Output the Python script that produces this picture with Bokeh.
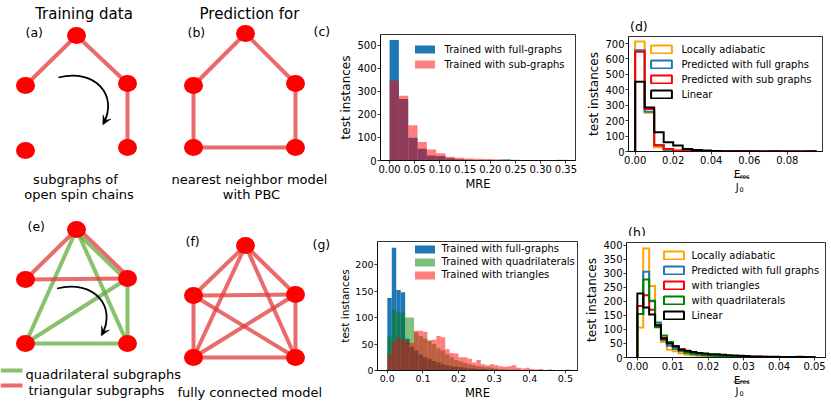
import math
from bokeh.plotting import figure
from bokeh.layouts import row, column
from bokeh.models import (Range1d, FixedTicker, PrintfTickFormatter, Legend, LegendItem,
                          ColumnDataSource)
from bokeh.core.properties import value
from bokeh.embed import file_html
from bokeh.resources import INLINE

FONT = "DejaVu Sans"
NAN = float("nan")

# ---------------- histogram data ----------------
# (c) MRE, 1D chains
c_bin_width = 0.0185
c_full = [522, 267, 99, 51, 22, 19, 10, 5, 3, 2, 1, 1, 4, 2, 1, 1, 0, 1, 1]
c_sub = [347, 281, 153, 80, 48, 31, 16, 12, 9, 8, 6, 5, 3, 3, 2, 2, 2, 2, 3]

# (d) E_res / J_0, 1D chains
d_bin_width = 0.005
d_adiabatic = [713, 252, 28, 6, 3, 2, 1, 1, 0, 0, 0, 0, 0, 0, 0, 0, 0, 0, 0]
d_full = [657, 258, 42, 12, 4, 2, 1, 1, 1, 0, 0, 0, 0, 0, 0, 0, 0, 0, 0]
d_sub = [646, 276, 39, 17, 6, 3, 1, 1, 1, 0, 2, 1, 0, 0, 0, 1, 1, 0, 0]
d_linear = [452, 286, 125, 60, 39, 17, 9, 6, 3, 2, 1, 1, 1, 0, 1, 0, 0, 0, 1]

# (g) MRE, fully connected
g_bin_width = 0.0125
g_full = [137, 232, 152, 148, 60, 45, 38, 30, 25, 22, 18, 15, 12, 10, 8, 7, 6, 5, 4, 4, 3,
          3, 2, 2, 2, 1, 1, 1, 1, 1, 1, 1, 0, 0, 1, 0, 1, 0, 1, 1, 1]
g_quad = [64, 115, 109, 110, 100, 100, 72, 65, 60, 57, 50, 42, 38, 30, 25, 20, 17, 14, 12, 10, 8,
          7, 6, 5, 4, 3, 3, 2, 2, 2, 1, 1, 1, 1, 0, 1, 0, 0, 0, 1, 2]
g_tri = [30, 53, 62, 58, 55, 52, 75, 75, 73, 55, 58, 65, 63, 40, 33, 32, 25, 25, 22, 15, 20,
         12, 10, 12, 10, 8, 7, 8, 10, 5, 4, 5, 3, 2, 3, 1, 2, 1, 1, 1, 0]

# (h) E_res / J_0, fully connected
h_bin_width = 0.05 / 30
h_adiabatic = [107, 388, 255, 118, 55, 28, 22, 14, 10, 8, 6, 5, 4, 3, 3, 2, 2, 2, 1, 1,
               1, 1, 1, 1, 1, 0, 0, 0, 0, 0]
h_full = [155, 305, 200, 125, 62, 42, 30, 22, 16, 12, 10, 8, 6, 5, 4, 4, 3, 3, 2, 2,
          2, 1, 1, 1, 1, 1, 1, 1, 1, 1]
h_tri = [183, 222, 170, 112, 70, 52, 40, 30, 22, 18, 14, 12, 10, 8, 7, 6, 5, 4, 4, 3,
         3, 3, 2, 2, 2, 2, 2, 3, 2, 2]
h_quad = [155, 278, 202, 108, 78, 55, 38, 26, 18, 14, 12, 10, 8, 6, 5, 5, 4, 3, 3, 2,
          2, 2, 2, 1, 1, 1, 1, 1, 1, 1]
h_linear = [228, 178, 153, 115, 68, 50, 40, 28, 24, 20, 16, 14, 12, 12, 10, 8, 7, 6, 5, 4,
            4, 3, 3, 3, 2, 2, 2, 2, 2, 1]

# ---------------- schematic graphs (node order: top, mid-left, mid-right, bottom-left, bottom-right)
a_nodes_x = [76, 25, 127, 25, 127]
a_nodes_y = [35, 85, 83, 150, 147]
b_nodes_x = [245, 193, 295, 193, 295]
b_nodes_y = [33, 85, 83, 147, 147]
e_nodes_x = [76, 25, 127, 25, 127]
e_nodes_y = [229, 279, 278, 343, 343]
f_nodes_x = [245, 193, 295, 193, 295]
f_nodes_y = [245, 295, 294, 357, 357]
a_edges = [(0, 1), (0, 2), (2, 4)]
b_edges = [(0, 1), (0, 2), (2, 4), (3, 4), (1, 3)]
e_tri_edges = [(0, 1), (1, 2), (0, 2)]
e_quad_edges = [(0, 3), (0, 4), (2, 3), (3, 4), (2, 4), (0, 2)]
f_edges = [(i, j) for i in range(5) for j in range(i + 1, 5)]

BLUE = "#1f77b4"
EDGE_RED = "#e23a3a"
EDGE_GREEN = "#62ad3c"


def bin_edges(width, counts):
    return [i * width for i in range(len(counts) + 1)]


def step_xy(edges, counts):
    xs, ys = [edges[0]], [0]
    for i, c in enumerate(counts):
        xs += [edges[i], edges[i + 1]]
        ys += [c, c]
    xs.append(edges[-1])
    ys.append(0)
    return xs, ys


def hist_fig(width, height, bl, br, bt, bb, xr, yr, xticks, xfmt, yticks, tick_fs):
    p = figure(width=width, height=height, min_border_left=bl, min_border_right=br,
               min_border_top=bt, min_border_bottom=bb, x_range=Range1d(*xr),
               y_range=Range1d(*yr), output_backend="svg", toolbar_location=None, tools="")
    p.xgrid.visible = False
    p.ygrid.visible = False
    p.outline_line_color = "black"
    p.outline_line_width = 0.8
    p.outline_line_alpha = 1
    p.background_fill_color = "white"
    p.border_fill_color = "white"
    p.xaxis.ticker = FixedTicker(ticks=xticks)
    p.xaxis.formatter = PrintfTickFormatter(format=xfmt)
    p.yaxis.ticker = FixedTicker(ticks=yticks)
    for ax in (p.xaxis[0], p.yaxis[0]):
        ax.axis_line_color = "black"
        ax.axis_line_width = 0.8
        ax.major_tick_line_width = 0.8
        ax.major_tick_out = 3
        ax.major_tick_in = 0
        ax.minor_tick_line_color = None
        ax.major_label_text_font = FONT
        ax.major_label_text_font_size = tick_fs
        ax.major_label_text_color = "black"
        ax.major_label_standoff = 1
        ax.axis_label_text_font = FONT
        ax.axis_label_text_font_style = "normal"
        ax.axis_label_text_color = "black"
        ax.axis_label_standoff = 1
    return p


def canvas(x0, x1, y0, y1):
    """Axis-less drawing area whose data units are page pixels."""
    s = figure(width=x1 - x0, height=y1 - y0, x_range=Range1d(x0, x1), y_range=Range1d(y1, y0),
               min_border=0, output_backend="svg", toolbar_location=None, tools="",
               x_axis_location=None, y_axis_location=None)
    s.grid.visible = False
    s.outline_line_color = None
    s.background_fill_color = "white"
    s.border_fill_color = "white"
    return s


def texts(s, items, size, align):
    s.text(x=[t[1] for t in items], y=[t[2] for t in items], text=[t[0] for t in items],
           text_font=value(FONT), text_font_size=size, text_align=align,
           text_baseline="alphabetic", text_color="black")


def fraction(s, xc, y_e, y_line, y_j):
    texts(s, [("E", xc - 9.5, y_e), ("J", xc - 7.5, y_j)], "10px", "left")
    texts(s, [("res", xc - 2.3, y_e + 2), ("0", xc - 2.5, y_j + 1.5)], "6.5px", "left")
    s.segment([xc - 10], [y_line], [xc + 9.5], [y_line], line_color="black", line_width=0.8)


def legend(p, items, loc, gw, standoff, spacing):
    lg = Legend(items=items, location=loc, glyph_width=gw, glyph_height=10,
                label_standoff=standoff, spacing=spacing, padding=0, margin=0,
                label_height=12, label_text_font=FONT, label_text_font_size="10px",
                label_text_color="black", label_text_baseline="middle", border_line_color=None,
                background_fill_color="white", background_fill_alpha=0.8)
    p.add_layout(lg)


def proxy(p, color):
    # legend-only handle (outlined box, like matplotlib's step-histogram legend patch)
    src = ColumnDataSource(dict(left=[NAN], right=[NAN], top=[NAN], bottom=[NAN]))
    return p.quad(left="left", right="right", top="top", bottom="bottom", source=src,
                  fill_alpha=0, line_color=color, line_width=2)


# ---------------- panel (c) ----------------
pc = hist_fig(246, 201, 40, 7, 34, 41, (-0.018, 0.369), (0, 546),
              [0, 0.05, 0.1, 0.15, 0.2, 0.25, 0.3, 0.35], "%.2f", [0, 100, 200, 300, 400, 500], "10px")
ce = bin_edges(c_bin_width, c_full)
rc1 = pc.quad(left=ce[:-1], right=ce[1:], bottom=0, top=c_full, fill_color=BLUE, line_color=None)
rc2 = pc.quad(left=ce[:-1], right=ce[1:], bottom=0, top=c_sub, fill_color="red", fill_alpha=0.5,
              line_color=None)
pc.xaxis.axis_label = "MRE"
pc.xaxis.axis_label_text_font_size = "11.5px"
pc.yaxis.axis_label = "test instances"
pc.yaxis.axis_label_text_font_size = "12px"
legend(pc, [LegendItem(label="Trained with full-graphs", renderers=[rc1]),
            LegendItem(label="Trained with sub-graphs", renderers=[rc2])],
       (31.5, 90), 25, 8, 3)

# ---------------- panel (d) ----------------
pd_ = hist_fig(249, 135, 46, 9, 3, 17, (-0.0035, 0.0985), (0, 745.5),
               [0, 0.02, 0.04, 0.06, 0.08], "%.2f", [0, 100, 200, 300, 400, 500, 600, 700], "10px")
de = bin_edges(d_bin_width, d_adiabatic)
for counts, col in ((d_adiabatic, "orange"), (d_full, BLUE), (d_sub, "red"), (d_linear, "black")):
    xs, ys = step_xy(de, counts)
    pd_.line(xs, ys, line_color=col, line_width=2, line_join="miter")
pd_.yaxis.axis_label = "test instances"
pd_.yaxis.axis_label_text_font_size = "12px"
legend(pd_, [LegendItem(label="Locally adiabatic", renderers=[proxy(pd_, "orange")]),
             LegendItem(label="Predicted with full graphs", renderers=[proxy(pd_, BLUE)]),
             LegendItem(label="Predicted with sub graphs", renderers=[proxy(pd_, "red")]),
             LegendItem(label="Linear", renderers=[proxy(pd_, "black")])],
       (20.4, 50.7), 26, 7, 3)
d_top = canvas(582, 831, 0, 33)
texts(d_top, [("(d)", 584, 26)], "12.5px", "left")
d_bot = canvas(582, 831, 168, 201)
fraction(d_bot, 727, 174, 176.7, 187.3)

# ---------------- panel (g) ----------------
pg = hist_fig(246, 201, 37, 5, 40, 29, (-0.0276, 0.534), (0, 243.6),
              [0, 0.1, 0.2, 0.3, 0.4, 0.5], "%.1f", [0, 50, 100, 150, 200], "9.5px")
ge = bin_edges(g_bin_width, g_full)
rg1 = pg.quad(left=ge[:-1], right=ge[1:], bottom=0, top=g_full, fill_color=BLUE, line_color=None)
rg2 = pg.quad(left=ge[:-1], right=ge[1:], bottom=0, top=g_quad, fill_color="green", fill_alpha=0.5,
              line_color=None)
rg3 = pg.quad(left=ge[:-1], right=ge[1:], bottom=0, top=g_tri, fill_color="red", fill_alpha=0.5,
              line_color=None)
pg.xaxis.axis_label = "MRE"
pg.xaxis.axis_label_text_font_size = "11.5px"
pg.yaxis.axis_label = "test instances"
pg.yaxis.axis_label_text_font_size = "10.5px"
legend(pg, [LegendItem(label="Trained with full-graphs", renderers=[rg1]),
            LegendItem(label="Trained with quadrilaterals", renderers=[rg2]),
            LegendItem(label="Trained with triangles", renderers=[rg3])],
       (34.5, 89.3), 25, 5, 1)

# ---------------- panel (h) ----------------
ph = hist_fig(249, 136, 41, 6, 6, 15, (-0.00306, 0.0531), (0, 409.5),
              [0, 0.01, 0.02, 0.03, 0.04, 0.05], "%.2f", [0, 50, 100, 150, 200, 250, 300, 350, 400],
              "10px")
he = bin_edges(h_bin_width, h_adiabatic)
for counts, col in ((h_adiabatic, "orange"), (h_full, BLUE), (h_tri, "red"), (h_quad, "green"),
                    (h_linear, "black")):
    xs, ys = step_xy(he, counts)
    ph.line(xs, ys, line_color=col, line_width=2, line_join="miter")
ph.yaxis.axis_label = "test instances"
ph.yaxis.axis_label_text_font_size = "12px"
legend(ph, [LegendItem(label="Locally adiabatic", renderers=[proxy(ph, "orange")]),
            LegendItem(label="Predicted with full graphs", renderers=[proxy(ph, BLUE)]),
            LegendItem(label="with triangles", renderers=[proxy(ph, "red")]),
            LegendItem(label="with quadrilaterals", renderers=[proxy(ph, "green")]),
            LegendItem(label="Linear", renderers=[proxy(ph, "black")])],
       (34.5, 36), 25, 6, 3)
h_top = canvas(582, 831, 201, 236)
texts(h_top, [("(h)", 584, 232)], "12.5px", "left")
h_bot = canvas(582, 831, 372, 402)
fraction(h_bot, 726, 379.5, 381.3, 391)

# ---------------- left schematic canvas ----------------
cv = canvas(0, 336, 0, 402)


def draw_edges(nx, ny, edges, color, offset=0.0, shared=()):
    x0, y0, x1, y1 = [], [], [], []
    for (i, j) in edges:
        dx, dy = nx[j] - nx[i], ny[j] - ny[i]
        L = math.hypot(dx, dy)
        o = offset if (i, j) in shared else 0.0
        ox, oy = -dy / L * o, dx / L * o
        x0.append(nx[i] + ox); y0.append(ny[i] + oy)
        x1.append(nx[j] + ox); y1.append(ny[j] + oy)
    cv.segment(x0, y0, x1, y1, line_color=color, line_alpha=0.75, line_width=4, line_cap="butt")


def draw_nodes(nx, ny):
    cv.ellipse(nx, ny, width=19, height=17, fill_color="#ff0000", line_color=None)


def curved_arrow(dx, dy):
    P0, P1, P2, P3 = (58 + dx, 77 + dy), (95 + dx, 68 + dy), (118 + dx, 95 + dy), (103 + dx, 123 + dy)
    cv.bezier(x0=[P0[0]], y0=[P0[1]], x1=[P3[0]], y1=[P3[1]], cx0=[P1[0]], cy0=[P1[1]],
              cx1=[P2[0]], cy1=[P2[1]], line_color="black", line_width=1.8)
    ux, uy = P3[0] - P2[0], P3[1] - P2[1]
    L = math.hypot(ux, uy)
    ux, uy = ux / L, uy / L
    px, py = -uy, ux
    tip = (P3[0] + 1.5 * ux, P3[1] + 1.5 * uy)
    hl, hw = 9.0, 4.5
    xs = [tip[0], tip[0] - hl * ux + hw * px, tip[0] - 0.55 * hl * ux, tip[0] - hl * ux - hw * px]
    ys = [tip[1], tip[1] - hl * uy + hw * py, tip[1] - 0.55 * hl * uy, tip[1] - hl * uy - hw * py]
    cv.patch(xs, ys, fill_color="black", line_color="black", line_width=0.5)


# (a)
draw_edges(a_nodes_x, a_nodes_y, a_edges, EDGE_RED)
draw_nodes(a_nodes_x, a_nodes_y)
curved_arrow(0, 0)
# (b)
draw_edges(b_nodes_x, b_nodes_y, b_edges, EDGE_RED)
draw_nodes(b_nodes_x, b_nodes_y)
# (e)
draw_edges(e_nodes_x, e_nodes_y, e_quad_edges, EDGE_GREEN, offset=1.9, shared=[(0, 2)])
draw_edges(e_nodes_x, e_nodes_y, e_tri_edges, EDGE_RED, offset=-1.9, shared=[(0, 2)])
draw_nodes(e_nodes_x, e_nodes_y)
curved_arrow(-1.5, 211)
# (f)
draw_edges(f_nodes_x, f_nodes_y, f_edges, EDGE_RED)
draw_nodes(f_nodes_x, f_nodes_y)
# legend lines for (e)
cv.segment([0, 0], [370, 385], [22, 22], [370, 385], line_color=[EDGE_GREEN, EDGE_RED],
           line_alpha=0.75, line_width=4)

texts(cv, [("Training data", 83.5, 13.5), ("Prediction for", 249, 13.5)], "15px", "center")
texts(cv, [("(a)", 25, 32), ("(b)", 187, 32), ("(c)", 313, 31), ("(e)", 27, 226),
           ("(f)", 185, 241), ("(g)", 312, 244)], "12.5px", "left")
texts(cv, [("subgraphs of", 75, 179), ("open spin chains", 78.5, 194),
           ("nearest neighbor model", 249, 179), ("with PBC", 251, 194)], "13px", "center")
texts(cv, [("quadrilateral subgraphs", 25, 373.5), ("triangular subgraphs", 28, 390),
           ("fully connected model", 177, 392)], "13px", "left")

layout = row(cv, column(row(pc, column(d_top, pd_, d_bot)),
                        row(pg, column(h_top, ph, h_bot))))

open("out.html", "w").write(file_html(layout, INLINE))
